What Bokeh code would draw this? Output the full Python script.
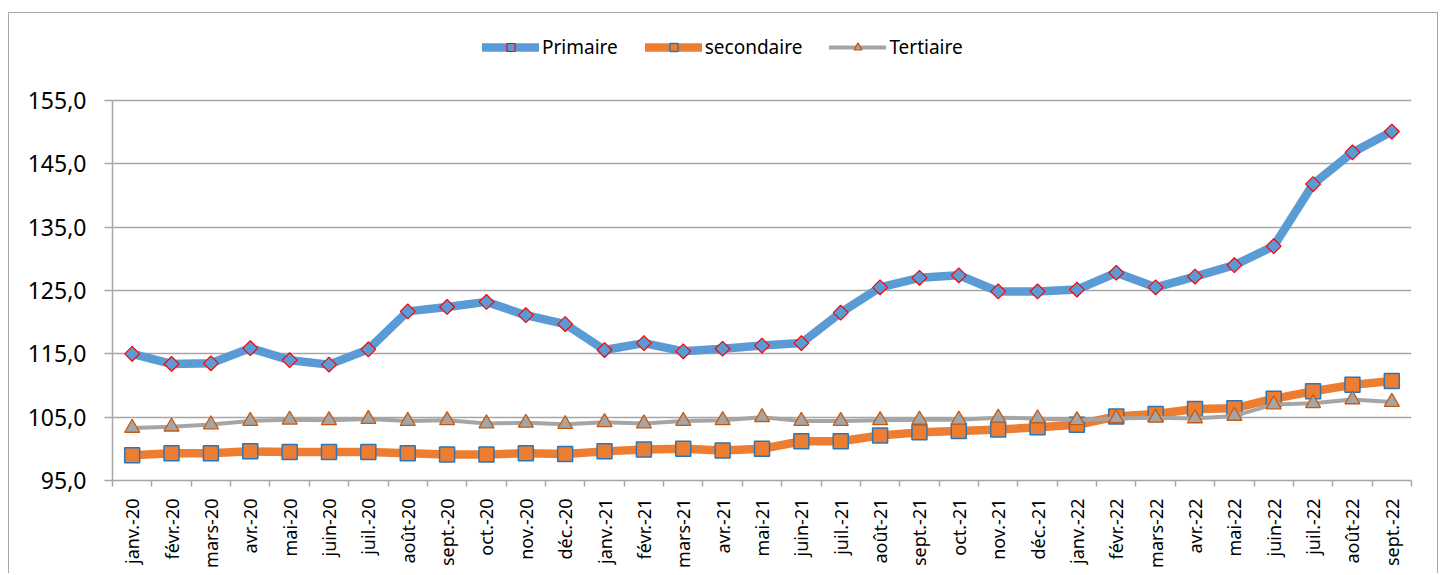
import math
from bokeh.plotting import figure
from bokeh.models import Range1d, FixedTicker, Legend, LegendItem, ColumnDataSource
from bokeh.embed import file_html
from bokeh.resources import INLINE

months = ["janv.-20", "févr.-20", "mars-20", "avr.-20", "mai-20", "juin-20", "juil.-20", "août-20",
          "sept.-20", "oct.-20", "nov.-20", "déc.-20",
          "janv.-21", "févr.-21", "mars-21", "avr.-21", "mai-21", "juin-21", "juil.-21", "août-21",
          "sept.-21", "oct.-21", "nov.-21", "déc.-21",
          "janv.-22", "févr.-22", "mars-22", "avr.-22", "mai-22", "juin-22", "juil.-22", "août-22",
          "sept.-22"]

primaire = [115.0, 113.4, 113.5, 115.9, 114.0, 113.3, 115.7, 121.7, 122.4, 123.2, 121.1, 119.7,
            115.6, 116.7, 115.4, 115.8, 116.3, 116.7, 121.5, 125.5, 127.0, 127.4, 124.85, 124.85,
            125.15, 127.8, 125.5, 127.2, 129.0, 132.0, 141.8, 146.8, 150.1]
secondaire = [99.0, 99.3, 99.3, 99.6, 99.5, 99.5, 99.5, 99.3, 99.1, 99.1, 99.3, 99.2,
              99.6, 99.9, 100.0, 99.75, 100.0, 101.2, 101.2, 102.1, 102.6, 102.8, 103.05, 103.4,
              103.8, 105.1, 105.5, 106.3, 106.4, 107.9, 109.1, 110.1, 110.7]
tertiaire = [103.3, 103.5, 103.85, 104.4, 104.6, 104.5, 104.7, 104.4, 104.5, 104.0, 104.1, 103.9,
             104.2, 104.0, 104.4, 104.5, 105.0, 104.4, 104.4, 104.5, 104.6, 104.6, 104.9, 104.8,
             104.5, 104.8, 104.9, 104.8, 105.2, 107.0, 107.2, 107.8, 107.4]

series_names = ["Primaire", "secondaire", "Tertiaire"]
y_ticks = [95, 105, 115, 125, 135, 145, 155]
y_tick_labels = ["95,0", "105,0", "115,0", "125,0", "135,0", "145,0", "155,0"]

FONT = "Noto Sans"
n = len(months)
xs = list(range(1, n + 1))
src = ColumnDataSource(dict(x=xs, m=months, p=primaire, s=secondaire, t=tertiaire))

# layout (pixels)
W, H = 1430, 561
top_pad, bottom_pad, left_pad, right_pad = 15, 94, 103, 28
frame_h = H - top_pad - bottom_pad
data_px = 380  # pixels covered by the y ticks span
span = y_ticks[-1] - y_ticks[0]
y_end = y_ticks[0] + span * frame_h / data_px

p = figure(width=W, height=H, output_backend="svg", toolbar_location=None,
           x_range=Range1d(0.5, n + 0.5), y_range=Range1d(y_ticks[0], y_end),
           min_border_left=left_pad, min_border_right=right_pad,
           min_border_top=top_pad, min_border_bottom=bottom_pad)
p.styles = {"border-top": "1.5px solid #a6a6a6", "border-left": "1.5px solid #a6a6a6",
            "border-right": "1.5px solid #a6a6a6", "margin-left": "8px", "margin-top": "12px"}
p.outline_line_color = None
p.background_fill_color = "white"
p.border_fill_color = "white"

r1l = p.line("x", "p", source=src, line_color="#5B9BD5", line_width=8.5, line_join="round", line_cap="round")
r1m = p.scatter("x", "p", source=src, marker="square", size=10.5, angle=math.pi / 4,
                fill_color="#5B9BD5", line_color="#FF0000", line_width=1.2)
r2l = p.line("x", "s", source=src, line_color="#ED7D31", line_width=8.5, line_join="round", line_cap="round")
r2m = p.scatter("x", "s", source=src, marker="square", size=15,
                fill_color="#ED7D31", line_color="#2E75B6", line_width=1.5)
r3l = p.line("x", "t", source=src, line_color="#A5A5A5", line_width=4, line_join="round", line_cap="round")
r3m = p.scatter("x", "t", source=src, marker="triangle", size=15,
                fill_color="#A5A5A5", line_color="#C55A11", line_width=1.3)

xa = p.xaxis[0]
xa.ticker = FixedTicker(ticks=xs, minor_ticks=[i + 0.5 for i in range(0, n + 1)])
xa.major_label_overrides = {i + 1: months[i] for i in range(n)}
xa.major_label_orientation = math.pi / 2
xa.major_tick_out = 0
xa.major_tick_in = 0
xa.minor_tick_out = 6
xa.minor_tick_in = 0
xa.minor_tick_line_color = "#a6a6a6"
xa.minor_tick_line_width = 1.5
xa.axis_line_color = "#a6a6a6"
xa.axis_line_width = 1.5
xa.major_label_text_font = FONT
xa.major_label_text_font_size = "18px"
xa.major_label_text_color = "#000000"
xa.major_label_standoff = 12

ya = p.yaxis[0]
ya.ticker = FixedTicker(ticks=y_ticks)
ya.bounds = (y_ticks[0], y_ticks[-1])
ya.major_label_overrides = {y_ticks[i]: y_tick_labels[i] for i in range(len(y_ticks))}
ya.major_tick_out = 8
ya.major_tick_in = 0
ya.minor_tick_out = 0
ya.minor_tick_in = 0
ya.major_tick_line_color = "#a6a6a6"
ya.major_tick_line_width = 1.5
ya.axis_line_color = "#a6a6a6"
ya.axis_line_width = 1.5
ya.major_label_text_font = FONT
ya.major_label_text_font_size = "23px"
ya.major_label_text_color = "#000000"
ya.major_label_standoff = 18

p.xgrid.grid_line_color = None
p.ygrid.grid_line_color = "#a6a6a6"
p.ygrid.grid_line_width = 1.5
p.ygrid.ticker = FixedTicker(ticks=y_ticks)

legend = Legend(items=[LegendItem(label=series_names[0], renderers=[r1l, r1m]),
                       LegendItem(label=series_names[1], renderers=[r2l, r2m]),
                       LegendItem(label=series_names[2], renderers=[r3l, r3m])],
                orientation="horizontal", location=(370, data_px + 40),
                glyph_width=57, glyph_height=20, label_standoff=3, spacing=27,
                padding=0, margin=0, border_line_color=None, background_fill_alpha=0,
                label_text_font=FONT, label_text_font_size="19px", label_text_color="#000000")
p.add_layout(legend, "center")

open("out.html", "w").write(file_html(p, INLINE))
